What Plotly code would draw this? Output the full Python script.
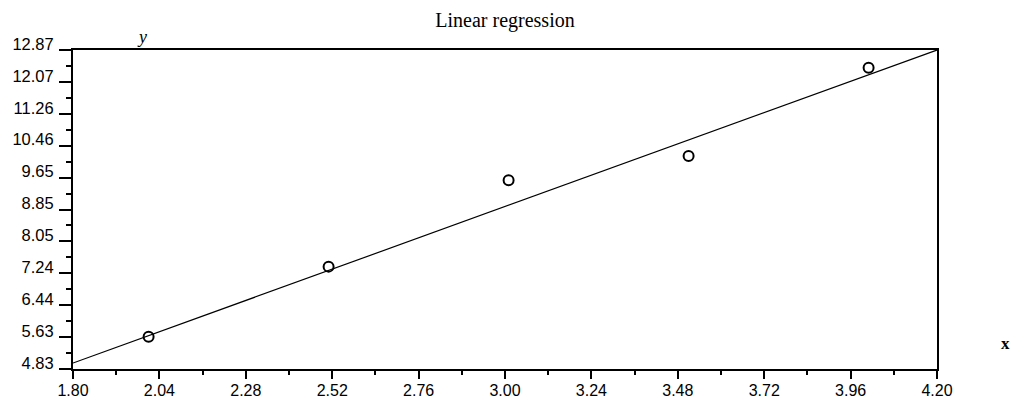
import plotly.graph_objects as go

# Data
pts_x = [2.01, 2.51, 3.01, 3.51, 4.01]
pts_y = [5.64, 7.41, 9.59, 10.20, 12.42]
line_x = [1.80, 4.20]
line_y = [4.98, 12.87]

x_ticks = [1.80, 2.04, 2.28, 2.52, 2.76, 3.00, 3.24, 3.48, 3.72, 3.96, 4.20]
x_labels = ["1.80", "2.04", "2.28", "2.52", "2.76", "3.00", "3.24", "3.48", "3.72", "3.96", "4.20"]
y_labels = ["4.83", "5.63", "6.44", "7.24", "8.05", "8.85", "9.65", "10.46", "11.26", "12.07", "12.87"]
y_min, y_max = 4.83, 12.87
y_ticks = [y_min + i * (y_max - y_min) / 10 for i in range(11)]

W, H = 1015, 400
ML, MR, MT, MB = 73, 78, 50, 31
pw, ph = W - ML - MR, H - MT - MB


def to_paper(px, py):
    return (px - ML) / pw, (H - MB - py) / ph


fig = go.Figure()
fig.add_trace(go.Scatter(x=line_x, y=line_y, mode="lines",
                         line=dict(color="black", width=1.2), showlegend=False))
fig.add_trace(go.Scatter(x=pts_x, y=pts_y, mode="markers",
                         marker=dict(symbol="circle-open", size=10, color="black",
                                     line=dict(width=2, color="black")),
                         showlegend=False))

tickfont = dict(family="Liberation Sans", size=16.5, color="black")
xtickfont = dict(family="Liberation Sans", size=16, color="black")

yx, yy = to_paper(142, 37)
xx, xy = to_paper(1005, 343)

fig.update_layout(
    width=W, height=H,
    margin=dict(l=ML, r=MR, t=MT, b=MB),
    paper_bgcolor="white", plot_bgcolor="white",
    title=dict(text="Linear regression", x=0.5, xref="paper", xanchor="center",
               y=1 - 20 / H, yref="container", yanchor="middle",
               font=dict(family="Liberation Serif", size=20, color="black")),
    xaxis=dict(range=[1.80, 4.20], tickmode="array", tickvals=x_ticks, ticktext=x_labels,
               showgrid=False, zeroline=False, showline=True, linecolor="black", linewidth=2,
               mirror=True, ticks="outside", ticklen=8, tickwidth=2, tickcolor="black",
               tickfont=xtickfont, automargin=False, ticklabelstandoff=-2,
               minor=dict(tick0=1.92, dtick=0.24, ticks="outside", ticklen=4,
                          tickwidth=2, tickcolor="black", showgrid=False)),
    yaxis=dict(range=[y_min, y_max], tickmode="array", tickvals=y_ticks, ticktext=y_labels,
               showgrid=False, zeroline=False, showline=True, linecolor="black", linewidth=2,
               mirror=True, ticks="outside", ticklen=12, tickwidth=2, tickcolor="black",
               tickfont=tickfont, ticklabelstandoff=2, ticklabelshift=-6, automargin=False,
               minor=dict(tick0=y_min + (y_max - y_min) / 20, dtick=(y_max - y_min) / 10,
                          ticks="outside", ticklen=5, tickwidth=2, tickcolor="black",
                          showgrid=False)),
    annotations=[
        dict(text="<i>y</i>", x=yx, y=yy, xref="paper", yref="paper", showarrow=False,
             xanchor="center", yanchor="middle",
             font=dict(family="Liberation Serif", size=18, color="black")),
        dict(text="<b>x</b>", x=xx, y=xy, xref="paper", yref="paper", showarrow=False,
             xanchor="center", yanchor="middle",
             font=dict(family="Liberation Serif", size=17, color="black")),
    ],
)

fig.write_html("out.html")
